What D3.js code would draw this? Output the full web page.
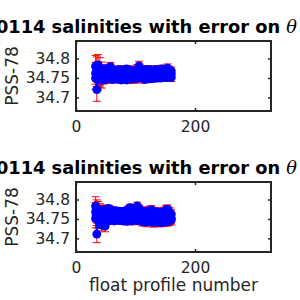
<!DOCTYPE html>
<html><head><meta charset="utf-8">
<script src="https://cdn.jsdelivr.net/npm/d3@7"></script>
<style>html,body{margin:0;padding:0;background:#fff;overflow:hidden}</style>
</head><body>
<svg id="c" width="300" height="300"></svg>
<script>
// ---- data ----
const profiles = [33,35,37,40,43,46,49,52,55,58,61,64,67,70,73,76,79,82,85,88,91,94,97,100,103,106,109,112,115,118,121,124,127,130,133,136,139,142,145,148,151,154,157,160];

const topLevelA = [34.780,34.774,34.783,34.777,34.771,34.768,34.773,34.769,34.775,34.779,34.771,34.768,34.770,34.767,34.772,34.769,34.766,34.771,34.773,34.768,34.770,34.767,34.765,34.768,34.772,34.781,null,null,34.771,34.768,34.772,34.767,34.769,34.771,34.768,34.772,34.769,34.770,34.773,34.770,34.771,34.775,34.770,34.768];
const topLevelB = [34.762,34.758,34.765,34.755,34.760,34.757,34.761,34.756,34.759,34.762,34.757,34.760,34.756,34.758,34.761,34.755,34.759,34.757,34.760,34.756,34.758,34.755,34.757,34.754,34.757,null,null,null,34.760,34.758,34.761,34.759,34.760,34.758,34.761,34.759,34.762,34.760,34.761,34.763,34.761,34.764,34.762,34.760];
const topLevelC = [34.749,34.720,34.746,34.751,34.744,34.749,34.746,34.751,34.748,34.750,34.746,34.749,34.752,34.747,34.750,34.745,34.751,34.748,34.745,34.749,34.747,34.751,34.748,34.750,34.749,null,null,null,34.746,34.749,34.751,34.748,34.750,34.749,34.751,34.750,34.752,34.750,34.751,34.753,34.751,34.752,34.754,34.751];
const topErr = [0.028,0.030,0.027,0.025,0.020,0.015,0.010,0.009,0.010,0.011,0.009,0.008,0.009,0.010,0.009,0.008,0.009,0.010,0.009,0.010,0.011,0.010,0.011,0.012,0.012,0.012,0.010,0.010,0.009,0.009,0.010,0.009,0.010,0.009,0.010,0.009,0.010,0.009,0.010,0.010,0.010,0.011,0.010,0.010];
const topLoneBarX = [106];
const topLoneBarY = [34.7525];
const topLoneBarErr = [0.0125];

const botLevelA = [34.783,34.777,34.775,34.771,34.769,34.773,34.771,34.775,34.777,34.774,34.771,34.768,34.771,34.767,34.770,34.766,34.769,34.765,34.771,34.775,34.779,34.773,34.771,34.777,34.783,34.777,34.769,34.766,34.770,34.765,34.768,34.771,34.773,34.768,34.765,34.768,34.764,34.766,34.765,34.769,34.773,34.775,34.768,34.763];
const botLevelB = [34.768,34.762,34.758,34.755,34.760,34.758,34.762,34.760,34.757,34.760,34.756,34.758,34.755,34.757,34.754,34.756,34.753,34.755,34.757,34.754,34.758,34.755,34.757,34.760,34.762,34.758,34.755,34.753,34.756,34.754,34.756,34.758,34.755,34.753,34.755,34.752,34.754,34.753,34.755,34.757,34.754,34.756,34.753,34.752];
const botLevelC = [34.751,34.711,34.747,34.745,34.734,34.744,34.732,34.747,34.749,34.746,34.748,34.745,34.747,34.749,34.746,34.748,34.745,34.747,34.744,34.746,34.748,34.745,34.747,34.749,34.746,34.748,34.745,34.743,34.745,34.742,34.744,34.746,34.743,34.741,34.743,34.744,34.742,34.741,34.743,34.742,34.744,34.743,34.745,34.747];
const botErr = [0.024,0.022,0.020,0.018,0.015,0.012,0.015,0.009,0.008,0.008,0.009,0.008,0.008,0.009,0.008,0.008,0.009,0.008,0.009,0.008,0.009,0.010,0.009,0.010,0.010,0.009,0.010,0.011,0.011,0.012,0.011,0.012,0.011,0.012,0.012,0.011,0.012,0.011,0.012,0.011,0.012,0.011,0.012,0.012];

const xTicks = [0, 200];
const yTicks = [34.7, 34.75, 34.8];
const yTickLabels = ["34.7", "34.75", "34.8"];
const xDomain = [0, 327.7];
const yDomain = [34.665, 34.845];
const titleMain = "Float 1900114 salinities with error on ";
const titleSym = "θ";
const yLabel = "PSS-78";
const xLabel = "float profile number";

// ---- drawing ----
const svg = d3.select("#c");
const AX = "#262626";
const FONT = "DejaVu Sans, sans-serif";

function panel(top, levels, errs, loneX, loneY, loneErr, showXLabel) {
  const left = 76, right = 271, h = 70;
  const x = d3.scaleLinear().domain(xDomain).range([left, right]);
  const y = d3.scaleLinear().domain(yDomain).range([top + h, top]);
  const g = svg.append("g");

  // error bars (red)
  const cap = 4;
  const eb = g.append("g").attr("stroke", "#ff0000").attr("stroke-width", 1).attr("fill", "none");
  function bar(px, v, e) {
    if (v == null) return;
    const X = x(px), y1 = y(v - e), y2 = y(v + e);
    eb.append("line").attr("x1", X).attr("x2", X).attr("y1", y1).attr("y2", y2);
    eb.append("line").attr("x1", X - cap).attr("x2", X + cap).attr("y1", y1).attr("y2", y1);
    eb.append("line").attr("x1", X - cap).attr("x2", X + cap).attr("y1", y2).attr("y2", y2);
  }
  levels.forEach(lv => lv.forEach((v, i) => bar(profiles[i], v, errs[i])));
  loneX.forEach((px, i) => bar(px, loneY[i], loneErr[i]));

  // blue lines + markers
  const line = d3.line().defined(d => d[1] != null).x(d => x(d[0])).y(d => y(d[1]));
  levels.forEach(lv => {
    const pts = profiles.map((p, i) => [p, lv[i]]);
    g.append("path").attr("d", line(pts)).attr("fill", "none").attr("stroke", "#0000ff").attr("stroke-width", 1.5);
    g.selectAll(null).data(pts.filter(d => d[1] != null)).enter().append("circle")
      .attr("cx", d => x(d[0])).attr("cy", d => y(d[1])).attr("r", 4.5).attr("fill", "#0000ff");
  });

  // axes
  const fmt = d => yTickLabels[yTicks.indexOf(d)];
  const axL = g.append("g").attr("transform", `translate(${left},0)`)
    .call(d3.axisLeft(y).tickValues(yTicks).tickSize(-3).tickPadding(6).tickFormat(fmt));
  const axR = g.append("g").attr("transform", `translate(${right},0)`)
    .call(d3.axisRight(y).tickValues(yTicks).tickSize(-3).tickFormat(""));
  const axB = g.append("g").attr("transform", `translate(0,${top + h})`)
    .call(d3.axisBottom(x).tickValues(xTicks).tickSize(-3).tickPadding(8).tickFormat(d3.format("d")));
  const axT = g.append("g").attr("transform", `translate(0,${top})`)
    .call(d3.axisTop(x).tickValues(xTicks).tickSize(-3).tickFormat(""));
  [axL, axR, axB, axT].forEach(a => {
    a.select(".domain").remove();
    a.selectAll(".tick line").attr("stroke", AX).attr("stroke-width", 1.5);
    a.selectAll("text").attr("fill", AX).attr("font-family", FONT).attr("font-size", 15.5);
  });
  axB.selectAll("text").attr("dy", null).attr("y", 20.5).attr("dominant-baseline", "alphabetic");
  g.append("rect").attr("x", left).attr("y", top).attr("width", right - left).attr("height", h)
    .attr("fill", "none").attr("stroke", AX).attr("stroke-width", 2);

  // title
  const t = g.append("text").attr("x", 297).attr("y", top - 8).attr("text-anchor", "end")
    .attr("font-family", FONT).attr("font-weight", "bold").attr("font-size", 17.8).attr("fill", "#000");
  t.append("tspan").text(titleMain);
  t.append("tspan").attr("font-family", "DejaVu Serif, serif").attr("font-style", "italic").attr("font-weight", "normal").text(titleSym);

  // y label
  g.append("text").attr("transform", `translate(18,${top + h / 2}) rotate(-90)`).attr("text-anchor", "middle")
    .attr("font-family", FONT).attr("font-size", 17).attr("fill", AX).text(yLabel);

  if (showXLabel) {
    g.append("text").attr("x", (left + right) / 2).attr("y", top + h + 39).attr("text-anchor", "middle")
      .attr("font-family", FONT).attr("font-size", 17).attr("fill", AX).text(xLabel);
  }
}

panel(41, [topLevelA, topLevelB, topLevelC], topErr, topLoneBarX, topLoneBarY, topLoneBarErr, false);
panel(182, [botLevelA, botLevelB, botLevelC], botErr, [], [], [], true);
</script>
</body></html>
